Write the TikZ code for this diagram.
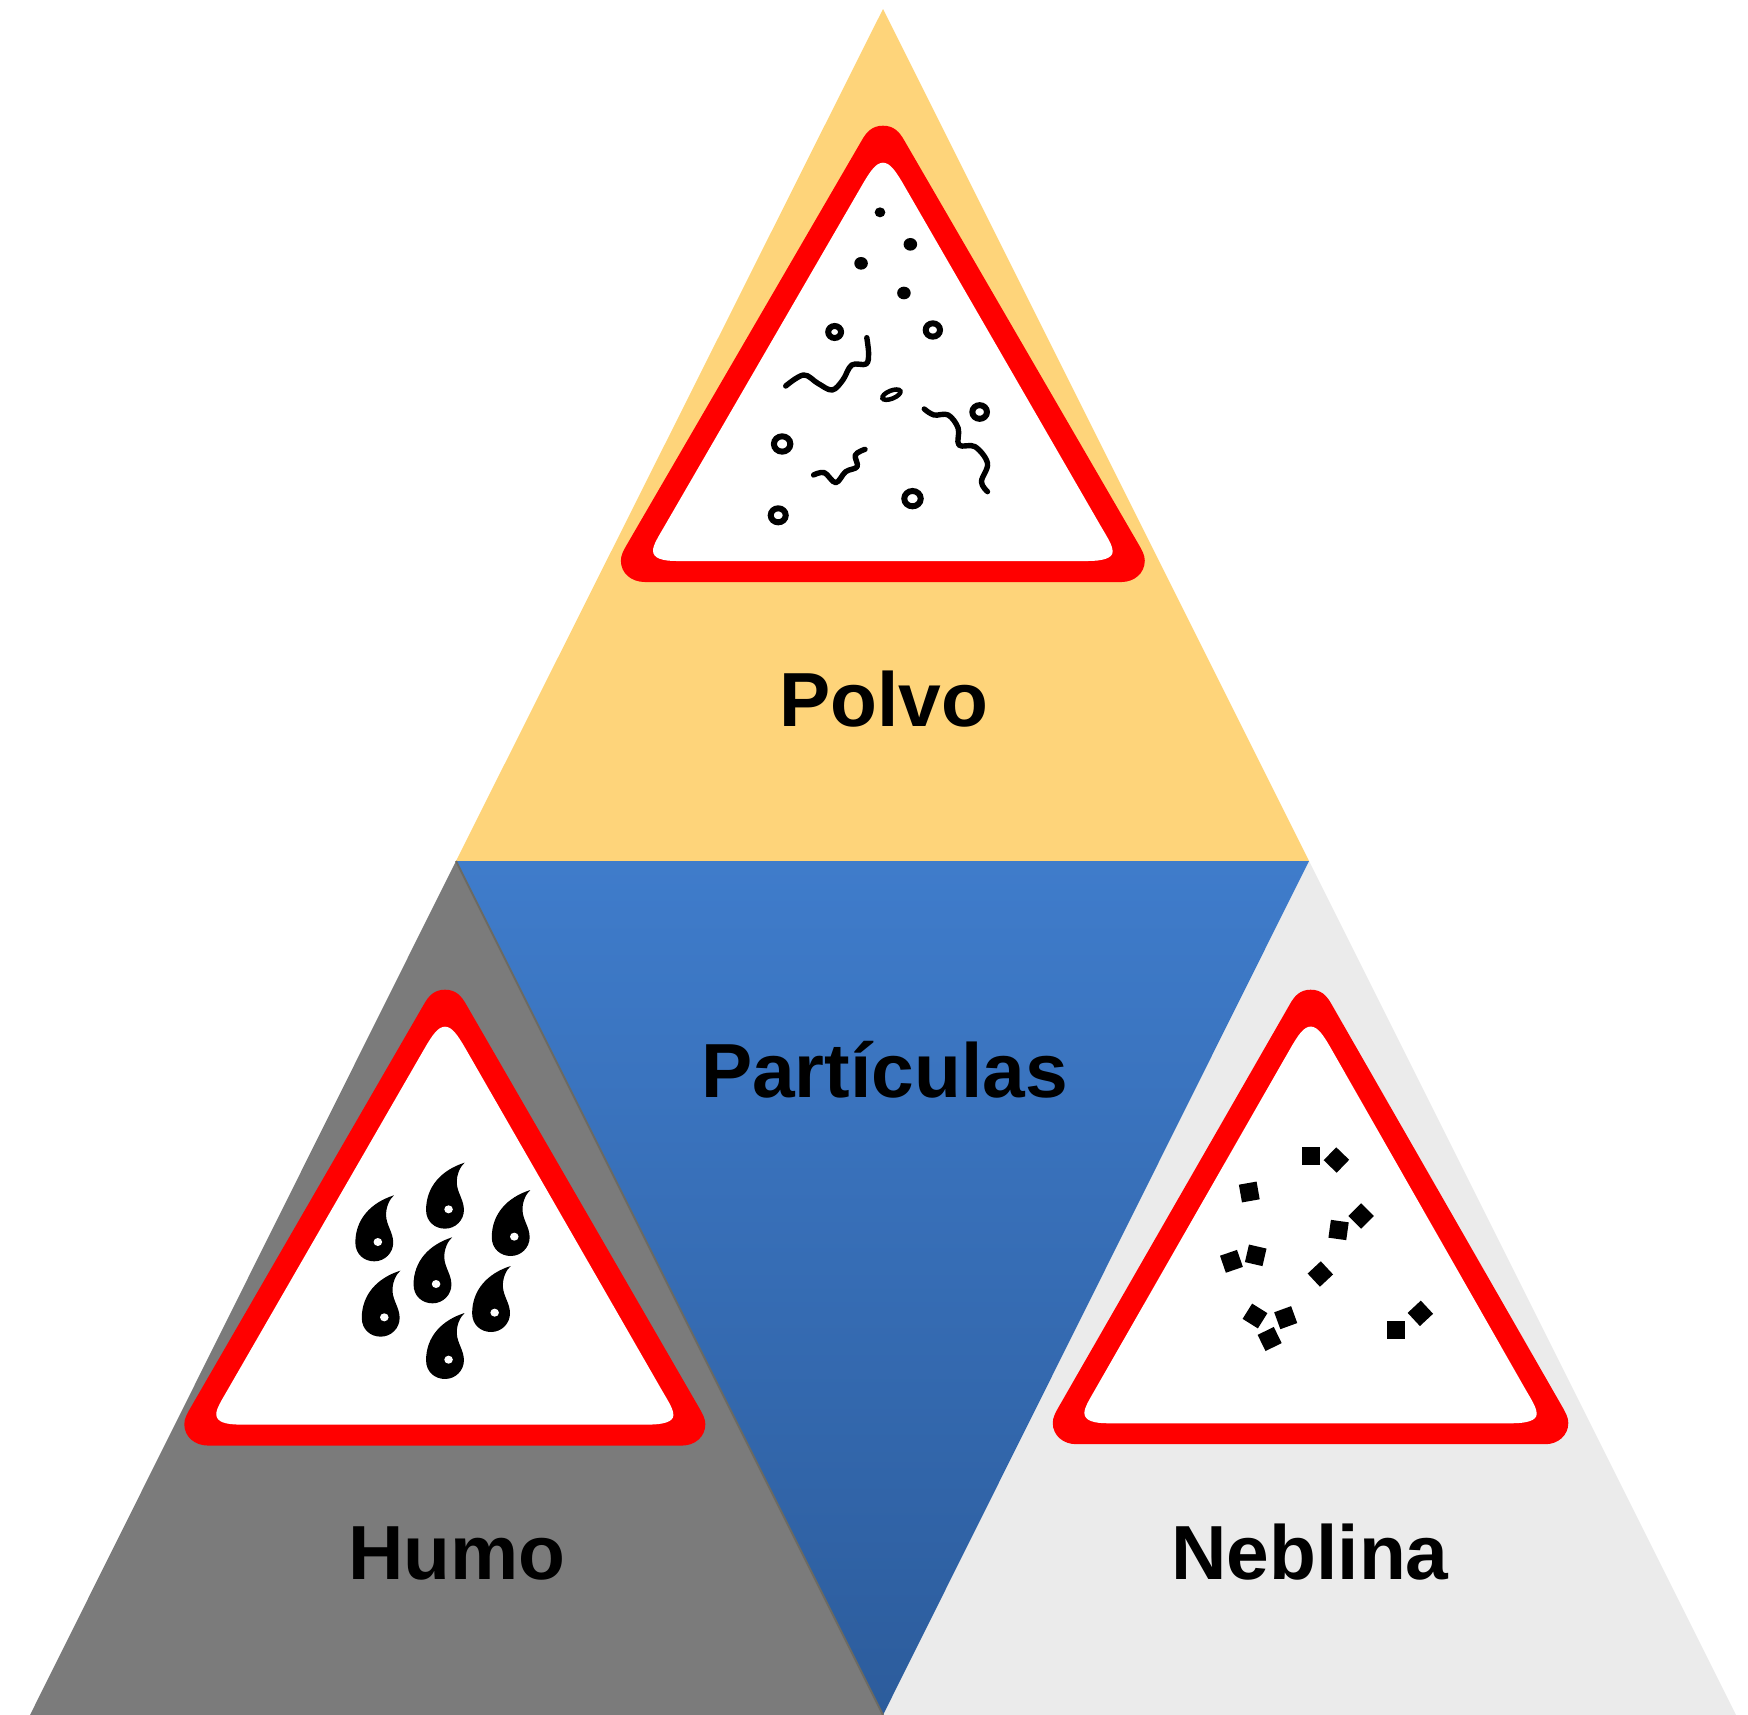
\documentclass[tikz,border=0pt]{standalone}
\usepackage{fontspec}
\setmainfont{Liberation Sans}
\definecolor{polvoC}{HTML}{FED47A}
\definecolor{humoC}{HTML}{7B7B7B}
\definecolor{neblinaC}{HTML}{EBEBEB}
\definecolor{blueT}{HTML}{3F7CCB}
\definecolor{blueB}{HTML}{2C5C9C}
\definecolor{edgeC}{HTML}{6C6A62}
\tikzset{
  px/.style={x=1bp,y=-1bp},
  zoomunits/.style={x=0.357143bp,y=-0.333333bp},
  lbl/.style={font=\fontsize{77}{78}\selectfont\bfseries,text=black,anchor=base,inner sep=0pt},
  partsq/.style={fill=black,inner sep=0pt,minimum width=18bp,minimum height=18bp},
  ringp/.style={draw=black,line width=6bp},
  squig/.style={draw=black,line width=5.4bp,line cap=round,line join=round}
}
\newcommand{\warnsign}[4]{%
  \begin{scope}[shift={(#1,#2)},zoomunits,xscale=#3,yscale=#4,shift={(-792,-47)}]
    \fill[red] (792,47) .. controls (822,47) and (838,65) .. (852,92)
      -- (1505,1298) .. controls (1518,1322) and (1525,1335) .. (1525,1352)
      .. controls (1525,1390) and (1495,1416) .. (1460,1416)
      -- (125,1416) .. controls (88,1416) and (58,1390) .. (58,1352)
      .. controls (58,1335) and (65,1322) .. (78,1298)
      -- (732,92) .. controls (746,65) and (762,47) .. (792,47) -- cycle;
    \fill[white] (792,158) .. controls (812,158) and (828,185) .. (845,215)
      -- (1400,1245) .. controls (1420,1282) and (1435,1305) .. (1435,1325)
      .. controls (1435,1345) and (1405,1353) .. (1365,1353)
      -- (215,1353) .. controls (175,1353) and (148,1345) .. (148,1322)
      .. controls (148,1305) and (162,1282) .. (182,1245)
      -- (739,215) .. controls (756,185) and (772,158) .. (792,158) -- cycle;
  \end{scope}}
\newcommand{\drop}[2]{%
  \begin{scope}[shift={(#1,#2)},shift={(-825,-578)}]
    \fill[black] (825,578) .. controls (760,600) and (717,650) .. (717,720)
      .. controls (717,755) and (742,776) .. (770,776)
      .. controls (800,776) and (823,750) .. (823,720)
      .. controls (823,690) and (805,670) .. (803,640)
      .. controls (802,615) and (812,590) .. (825,578) -- cycle;
    \fill[white] (780,718) circle[radius=12];
  \end{scope}}
\begin{document}
\begin{tikzpicture}[px]
  \useasboundingbox (0,0) rectangle (1748,1715);
  % large triangles
  \fill[polvoC] (883,9) -- (1309,861) -- (456,861) -- cycle;
  \fill[humoC] (456,861) -- (883,1715) -- (30,1715) -- cycle;
  \fill[neblinaC] (1309,861) -- (1736,1715) -- (883,1715) -- cycle;
  \shade[top color=blueT,bottom color=blueB] (456,861) -- (1309,861) -- (883,1715) -- cycle;
  \draw[edgeC,line width=2bp] (456,861) -- (883,1715);
  % signs
  \warnsign{883}{125.7}{1}{1}
  \warnsign{445}{989.7}{0.9945}{0.999}
  \warnsign{1310.7}{989.7}{0.984}{0.996}
  % Polvo particles
  \begin{scope}[shift={(600,110)},zoomunits]
    \fill (784,307) circle[radius=15];
    \fill (869,403) circle[radius=19];
    \fill (731,460) circle[radius=19];
    \fill (851,549) circle[radius=19];
    \draw[ringp] (657,666) circle[radius=18];
    \draw[ringp] (932,660) circle[radius=20];
    \draw[ringp] (1063,906) circle[radius=20.5];
    \draw[ringp] (510,1002) circle[radius=23];
    \draw[ringp] (875,1166) circle[radius=23];
    \draw[ringp] (499,1216) circle[radius=21];
    \draw[ringp,line width=4.5bp,rotate around={22:(816,854)}] (816,854) ellipse[x radius=27,y radius=12];
    \draw[squig] plot[smooth,tension=.6] coordinates {(520,828) (570,795) (610,820) (650,840) (680,810) (705,765) (745,762) (752,730) (747,683)};
    \draw[squig] plot[smooth,tension=.6] coordinates {(908,897) (935,915) (975,915) (1003,955) (1005,1005) (1050,1010) (1085,1060) (1068,1115) (1085,1145)};
    \draw[squig] plot[smooth,tension=.6] coordinates {(598,1095) (628,1088) (660,1118) (688,1085) (720,1070) (715,1035) (742,1018)};
  \end{scope}
  % Humo drops
  \begin{scope}[shift={(170,970)},zoomunits]
    \drop{627}{676}
    \drop{825}{578}
    \drop{1009}{660}
    \drop{790}{802}
    \drop{645}{902}
    \drop{954}{888}
    \drop{825}{1029}
  \end{scope}
  % Neblina particles
  \begin{scope}[shift={(1040,970)},zoomunits]
    \node[partsq] (n1) at (759,558) {};
    \node[partsq,rotate=46] (n2) at (830,570) {};
    \node[partsq,rotate=10] (n3) at (586,666) {};
    \node[partsq,rotate=45] (n4) at (899,738) {};
    \node[partsq,rotate=-8] (n5) at (836,780) {};
    \node[partsq,rotate=19] (n6) at (536,874) {};
    \node[partsq,rotate=-13] (n7) at (604,856) {};
    \node[partsq,rotate=43] (n8) at (785,912) {};
    \node[partsq,rotate=-32] (n9) at (602,1038) {};
    \node[partsq,rotate=20] (n10) at (688,1043) {};
    \node[partsq,rotate=26] (n11) at (643,1107) {};
    \node[partsq] (n12) at (997,1080) {};
    \node[partsq,rotate=43] (n13) at (1065,1030) {};
  \end{scope}
  % labels
  \node[lbl] (polvo) at (884,726) {Polvo};
  \node[lbl] (particulas) at (884.5,1097) {Partículas};
  \node[lbl] (humo) at (457,1579) {Humo};
  \node[lbl] (neblina) at (1310,1579) {Neblina};
\end{tikzpicture}
\end{document}
